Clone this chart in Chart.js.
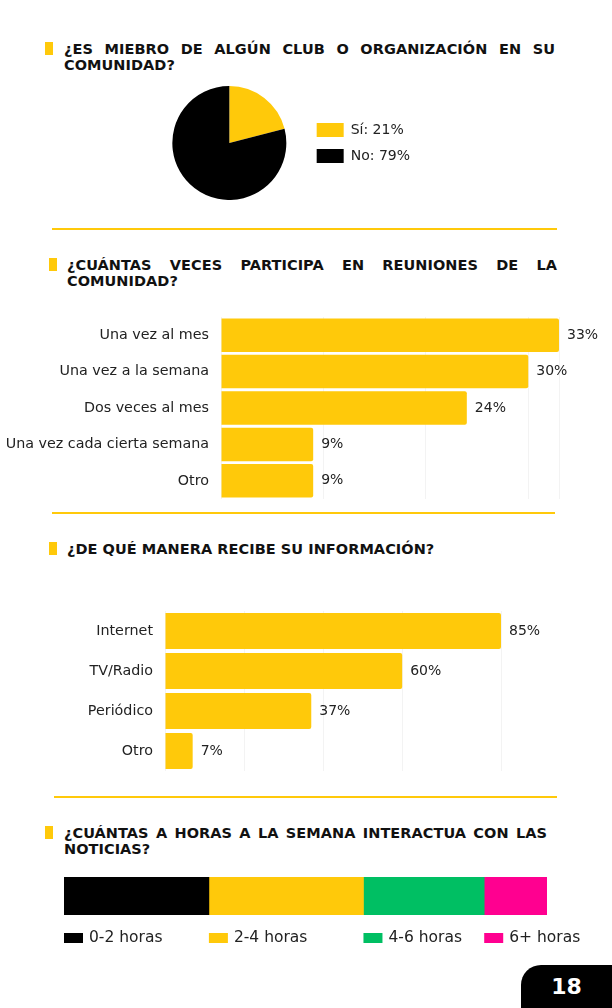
<!DOCTYPE html>
<html>
<head>
<meta charset="utf-8">
<script src="https://cdn.jsdelivr.net/npm/chart.js@4.4.1/dist/chart.umd.min.js"></script>
<style>
  body { margin: 0; background: #fff; }
  #page { position: relative; width: 612px; height: 1008px; overflow: hidden; font-family: "DejaVu Sans", sans-serif; }
  .head { position: absolute; display: flex; align-items: flex-start; }
  .head .sq { width: 8px; height: 13px; background: #FFC90A; flex: none; margin-top: 1px; }
  .head .tx { font-weight: bold; font-size: 14.5px; letter-spacing: 0.05px; line-height: 16px; color: #111; text-align: justify; flex: 1; }
  .rule { position: absolute; height: 2px; background: #FFC90A; }
  .box { position: absolute; }
  #num { position: absolute; left: 521px; top: 965px; width: 91px; height: 43px; background: #000; border-top-left-radius: 20px;
         color: #fff; font-weight: bold; font-size: 22px; display: flex; align-items: center; justify-content: center; }
</style>
</head>
<body>
<div id="page">
  <div class="head" style="left:45px;top:41px;width:510px">
    <div class="sq"></div><div class="tx" style="margin-left:11px">¿ES MIEBRO DE ALGÚN CLUB O ORGANIZACIÓN EN SU COMUNIDAD?</div>
  </div>
  <div class="box" style="left:154px;top:86px;width:266px;height:114px"><canvas id="pie"></canvas></div>
  <div class="rule" style="left:52px;top:228px;width:505px"></div>

  <div class="head" style="left:49px;top:257px;width:508px">
    <div class="sq"></div><div class="tx" style="margin-left:10px">¿CUÁNTAS VECES PARTICIPA EN REUNIONES DE LA COMUNIDAD?</div>
  </div>
  <div class="box" style="left:0;top:317px;width:612px;height:182px"><canvas id="reuniones"></canvas></div>
  <div class="rule" style="left:52px;top:512px;width:503px"></div>

  <div class="head" style="left:49px;top:541px;width:508px">
    <div class="sq"></div><div class="tx" style="margin-left:10px;text-align:left">¿DE QUÉ MANERA RECIBE SU INFORMACIÓN?</div>
  </div>
  <div class="box" style="left:0;top:611px;width:612px;height:160px"><canvas id="info"></canvas></div>
  <div class="rule" style="left:54px;top:796px;width:503px"></div>

  <div class="head" style="left:45px;top:825px;width:502px">
    <div class="sq"></div><div class="tx" style="margin-left:11px">¿CUÁNTAS A HORAS A LA SEMANA INTERACTUA CON LAS NOTICIAS?</div>
  </div>
  <div class="box" style="left:0;top:877px;width:612px;height:80px"><canvas id="horas"></canvas></div>

  <div id="num">18</div>
</div>

<script>
const AMARILLO = "#FFC90A";

// pregunta 1
const clubLabels = ["Sí", "No"];
const clubValues = [21, 79];

// pregunta 2
const reunionLabels = ["Una vez al mes", "Una vez a la semana", "Dos veces al mes", "Una vez cada cierta semana", "Otro"];
const reunionValues = [33, 30, 24, 9, 9];

// pregunta 3
const infoLabels = ["Internet", "TV/Radio", "Periódico", "Otro"];
const infoValues = [85, 60, 37, 7];

// pregunta 4
const horasLabels = ["0-2 horas", "2-4 horas", "4-6 horas", "6+ horas"];
const horasValues = [30, 32, 25, 13];
const horasColors = ["#000000", AMARILLO, "#00BF63", "#FF0090"];

Chart.defaults.font.family = '"DejaVu Sans", sans-serif';
Chart.defaults.color = "#222";
Chart.defaults.animation = false;

// etiqueta de % al final de cada barra
const etiquetas = {
  id: "etiquetas",
  afterDatasetsDraw(chart) {
    const ctx = chart.ctx;
    const meta = chart.getDatasetMeta(0);
    ctx.save();
    ctx.font = '14px "DejaVu Sans"';
    ctx.fillStyle = "#222";
    ctx.textBaseline = "middle";
    meta.data.forEach((bar, i) => {
      ctx.fillText(chart.data.datasets[0].data[i] + "%", bar.x + 8, bar.y);
    });
    ctx.restore();
  }
};

new Chart(document.getElementById("pie"), {
  type: "pie",
  data: {
    labels: clubLabels,
    datasets: [{ data: clubValues, backgroundColor: [AMARILLO, "#000000"], borderWidth: 0 }]
  },
  options: {
    responsive: true,
    maintainAspectRatio: false,
    plugins: {
      tooltip: { enabled: false },
      legend: {
        position: "right",
        labels: {
          boxWidth: 27,
          boxHeight: 14,
          padding: 12,
          font: { size: 14 },
          generateLabels(chart) {
            return Chart.overrides.pie.plugins.legend.labels.generateLabels(chart).map((l, i) => {
              l.text = clubLabels[i] + ": " + clubValues[i] + "%";
              l.lineWidth = 0;
              return l;
            });
          }
        }
      }
    }
  }
});

function barras(id, labels, values, max, step, yWidth, padRight, pct) {
  return new Chart(document.getElementById(id), {
    type: "bar",
    data: {
      labels: labels,
      datasets: [{ data: values, backgroundColor: AMARILLO, borderRadius: 2, borderSkipped: "left", barPercentage: pct, categoryPercentage: 1 }]
    },
    options: {
      indexAxis: "y",
      responsive: true,
      maintainAspectRatio: false,
      layout: { padding: { left: 0, right: padRight, top: 0, bottom: 0 } },
      scales: {
        x: {
          min: 0, max: max,
          ticks: { display: false, stepSize: step },
          grid: { color: "#f3f3f3", drawTicks: false },
          border: { display: false }
        },
        y: {
          grid: { display: false, drawTicks: false },
          border: { display: false },
          ticks: { padding: 12, font: { size: 14.3 }, color: "#222" },
          afterFit(s) {
            s.width = yWidth;
            s.paddingTop = 0;
            s.paddingBottom = 0;
          }
        }
      },
      plugins: { legend: { display: false }, tooltip: { enabled: false } }
    },
    plugins: [etiquetas]
  });
}

barras("reuniones", reunionLabels, reunionValues, 33, 10, 221, 53, 0.92);
barras("info", infoLabels, infoValues, 85, 20, 165, 111, 0.9);

// leyenda alineada con el inicio de cada segmento
const leyendaHoras = {
  id: "leyendaHoras",
  afterDraw(chart) {
    const ctx = chart.ctx;
    const x = chart.scales.x;
    const y = chart.chartArea.bottom + 18;
    let acc = 0;
    ctx.save();
    ctx.font = '15.5px "DejaVu Sans"';
    ctx.textBaseline = "middle";
    chart.data.datasets.forEach((ds) => {
      const px = x.getPixelForValue(acc);
      ctx.fillStyle = ds.backgroundColor;
      ctx.fillRect(px, y, 19, 10);
      ctx.fillStyle = "#222";
      ctx.fillText(ds.label, px + 25, y + 5);
      acc += ds.data[0];
    });
    ctx.restore();
  }
};

new Chart(document.getElementById("horas"), {
  type: "bar",
  data: {
    labels: ["horas"],
    datasets: horasLabels.map((l, i) => ({
      label: l,
      data: [horasValues[i]],
      backgroundColor: horasColors[i],
      borderWidth: 0,
      barPercentage: 1,
      categoryPercentage: 1
    }))
  },
  options: {
    indexAxis: "y",
    responsive: true,
    maintainAspectRatio: false,
    layout: { padding: { left: 64, right: 65, top: 0, bottom: 42 } },
    scales: {
      x: { stacked: true, display: false, min: 0, max: 100 },
      y: { stacked: true, display: false }
    },
    plugins: { legend: { display: false }, tooltip: { enabled: false } }
  },
  plugins: [leyendaHoras]
});
</script>
</body>
</html>
